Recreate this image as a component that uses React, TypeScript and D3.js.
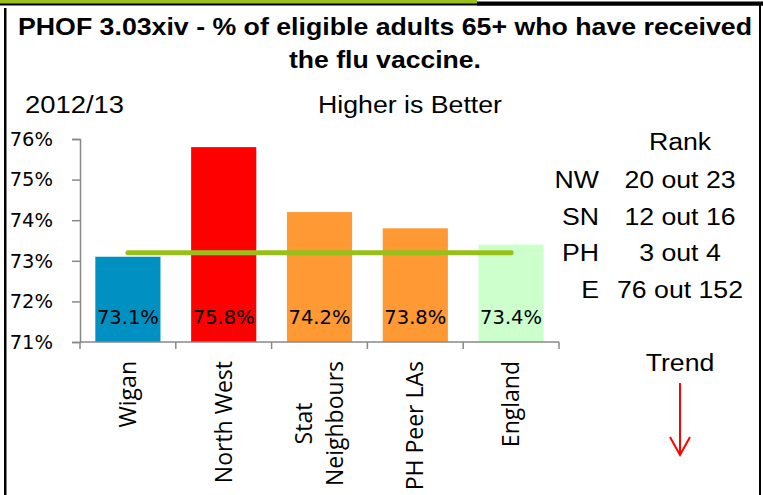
import React, { useEffect, useRef } from 'react';
import * as d3 from 'd3';

// chart data
const categories = ['Wigan', 'North West', 'Stat Neighbours', 'PH Peer LAs', 'England'];
const categoryLines = [['Wigan'], ['North West'], ['Stat', 'Neighbours'], ['PH Peer LAs'], ['England']];
const values = [73.1, 75.8, 74.2, 73.8, 73.4];
const barColors = ['#0090C2', '#FF0000', '#FF9933', '#FF9933', '#CCFFCC'];
const englandLine = 73.2;
const yTicks = [71, 72, 73, 74, 75, 76];

const rankGroups = ['NW', 'SN', 'PH', 'E'];
const rankText = ['20 out 23', '12 out 16', '3 out 4', '76 out 152'];

const width = 763;
const height = 495;

const App: React.FC = () => {
    const svgRef = useRef<SVGSVGElement>(null);

    useEffect(() => {
        const svg = d3.select(svgRef.current);
        svg.selectAll('*').remove();

        const arial = 'Liberation Sans, Arial, sans-serif';
        const axisFont = 'DejaVu Sans, Verdana, sans-serif';
        const green = '#97C11A';
        const stretch = 1.16; // the source picture is a bit wider than tall

        // plain text, stretched horizontally like the source
        const label = (x: number, y: number, txt: string, anchor = 'start', size = 23) =>
            svg.append('g').attr('transform', `translate(${x},${y}) scale(${stretch},1)`)
                .append('text').attr('text-anchor', anchor)
                .attr('font-family', arial).attr('font-size', size).text(txt);

        // frame
        svg.append('rect').attr('x', 0).attr('y', 0).attr('width', 477).attr('height', 4).attr('fill', green);
        svg.append('rect').attr('x', 0).attr('y', 3.5).attr('width', width).attr('height', 2).attr('fill', '#000');
        svg.append('rect').attr('x', 477).attr('y', 1.5).attr('width', width - 477).attr('height', 4).attr('fill', '#000');
        svg.append('rect').attr('x', 4).attr('y', 8).attr('width', 2.5).attr('height', height - 8).attr('fill', '#000');
        svg.append('rect').attr('x', 759).attr('y', 4).attr('width', 2).attr('height', height - 4).attr('fill', '#000');

        // header
        svg.append('text').attr('x', 18).attr('y', 35)
            .attr('font-family', arial).attr('font-weight', 'bold').attr('font-size', 24)
            .attr('textLength', 734).attr('lengthAdjust', 'spacingAndGlyphs')
            .text('PHOF 3.03xiv  - % of eligible adults 65+ who have received');
        svg.append('text').attr('x', 289).attr('y', 68)
            .attr('font-family', arial).attr('font-weight', 'bold').attr('font-size', 24)
            .attr('textLength', 192).attr('lengthAdjust', 'spacingAndGlyphs')
            .text('the flu vaccine.');
        svg.append('text').attr('x', 25).attr('y', 113)
            .attr('font-family', arial).attr('font-size', 23)
            .attr('textLength', 99).attr('lengthAdjust', 'spacingAndGlyphs')
            .text('2012/13');
        svg.append('text').attr('x', 318).attr('y', 113)
            .attr('font-family', arial).attr('font-size', 23)
            .attr('textLength', 184).attr('lengthAdjust', 'spacingAndGlyphs')
            .text('Higher is Better');

        // scales
        const x = d3.scaleBand<string>().domain(categories).range([80, 559]).paddingInner(0.32).paddingOuter(0.16);
        const y = d3.scaleLinear().domain([71, 76]).range([342, 139]);

        // bars
        svg.append('g').selectAll('rect')
            .data(values)
            .enter().append('rect')
            .attr('x', (d, i) => x(categories[i])!)
            .attr('y', d => y(d))
            .attr('width', x.bandwidth())
            .attr('height', d => y(71) - y(d))
            .attr('fill', (d, i) => barColors[i]);

        // y axis
        const yAxis = svg.append('g').attr('transform', 'translate(80,0)')
            .call(d3.axisLeft(y).tickValues(yTicks).tickSize(8).tickFormat(d => `${d}%`));
        yAxis.select('.domain').attr('stroke', '#888').attr('stroke-width', 1.5);
        yAxis.selectAll('.tick line').attr('stroke', '#888').attr('stroke-width', 1.5);
        yAxis.selectAll('.tick text')
            .attr('x', -27).attr('font-family', axisFont).attr('font-size', 19.5).attr('fill', '#000');

        // x axis line + ticks at band edges
        const step = x.step();
        const edges = d3.range(categories.length + 1).map(i => 80 + i * step);
        svg.append('line').attr('x1', 80).attr('x2', 559).attr('y1', y(71)).attr('y2', y(71))
            .attr('stroke', '#888').attr('stroke-width', 1.5);
        svg.append('g').selectAll('line').data(edges).enter().append('line')
            .attr('x1', d => d).attr('x2', d => d).attr('y1', y(71)).attr('y2', y(71) + 7)
            .attr('stroke', '#888').attr('stroke-width', 1.5);

        // England comparator line
        const first = categories[0];
        const last = categories[categories.length - 1];
        svg.append('line')
            .attr('x1', x(first)! + x.bandwidth() / 2).attr('x2', x(last)! + x.bandwidth() / 2)
            .attr('y1', y(englandLine)).attr('y2', y(englandLine))
            .attr('stroke', green).attr('stroke-width', 5).attr('stroke-linecap', 'round');

        // value labels
        svg.append('g').selectAll('text').data(values).enter().append('text')
            .attr('x', (d, i) => x(categories[i])! + x.bandwidth() / 2)
            .attr('y', 324)
            .attr('text-anchor', 'middle')
            .attr('font-family', axisFont).attr('font-size', 19.5)
            .text(d => `${d.toFixed(1)}%`);

        // category labels, rotated
        categoryLines.forEach((lines, i) => {
            const cx = x(categories[i])! + x.bandwidth() / 2;
            const g = svg.append('g').attr('transform', `translate(${cx},361) rotate(-90)`);
            const texts = lines.map((ln, j) => g.append('text')
                .attr('text-anchor', 'end')
                .attr('y', (j - (lines.length - 1) / 2) * 31)
                .attr('dy', '0.35em')
                .attr('font-family', 'Open Sans, sans-serif').attr('font-size', 23)
                .text(ln));
            const widths = texts.map(t => (t.node() as SVGTextElement).getComputedTextLength());
            const longest = d3.max(widths) || 0;
            texts.forEach((t, j) => t.attr('x', -(longest - widths[j]) / 2));
        });

        // rank panel
        label(680, 150, 'Rank', 'middle');
        rankGroups.forEach((r, i) => {
            const yy = 188 + i * 36.5;
            label(599, yy, r, 'end');
            label(680, yy, rankText[i], 'middle');
        });

        // trend
        label(680, 371, 'Trend', 'middle');
        svg.append('line').attr('x1', 680).attr('x2', 680).attr('y1', 383).attr('y2', 454)
            .attr('stroke', '#FF0000').attr('stroke-width', 2);
        svg.append('path').attr('d', 'M670,437 L680,455 L690,437')
            .attr('fill', 'none').attr('stroke', '#FF0000').attr('stroke-width', 2);
    }, []);

    return (
        <svg ref={svgRef} width={width} height={height}
            style={{ position: 'absolute', left: 0, top: 0, backgroundColor: 'white' }}></svg>
    );
};

export default App;
